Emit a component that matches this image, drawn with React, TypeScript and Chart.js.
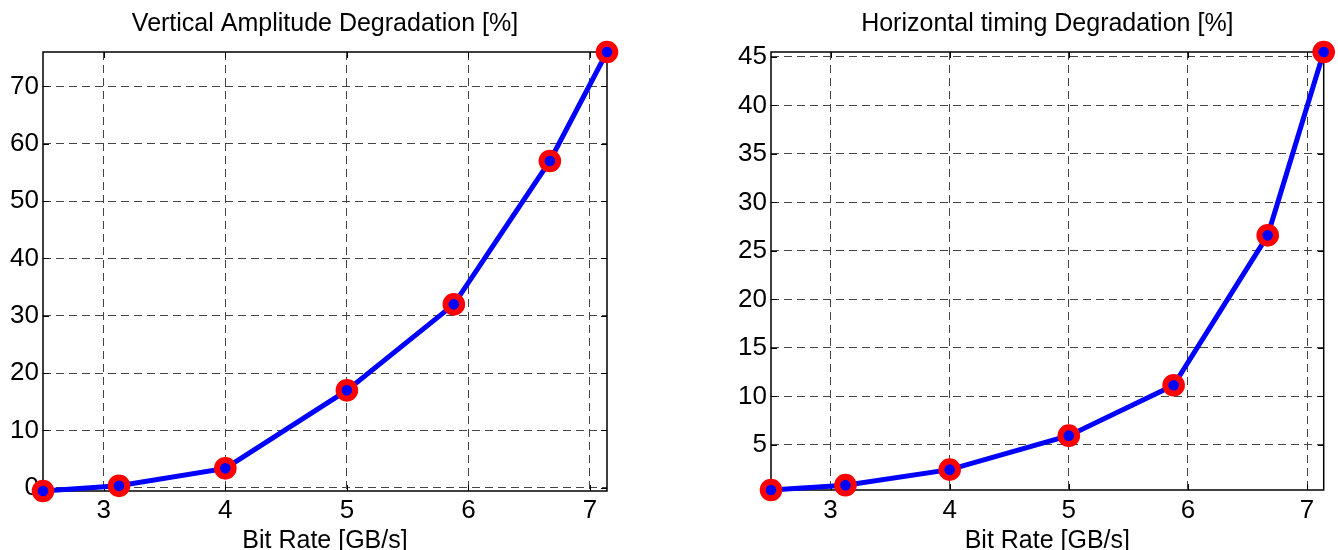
import React, { useEffect, useRef } from "react";
import { Chart, registerables } from "chart.js";

Chart.register(...registerables);

const bitRates = [2.5, 3.125, 4, 5, 5.88, 6.67, 7.14];
const verticalAmplitude = [-0.55, 0.35, 3.4, 17, 32, 57, 76];
const horizontalTiming = [0.35, 0.85, 2.45, 5.95, 11.15, 26.6, 45.5];
const xTicks = [3, 4, 5, 6, 7];
const verticalTicks = [0, 10, 20, 30, 40, 50, 60, 70];
const horizontalTicks = [5, 10, 15, 20, 25, 30, 35, 40, 45];
const leftTitle = "Vertical Amplitude Degradation [%]";
const rightTitle = "Horizontal timing Degradation [%]";
const xTitle = "Bit Rate [GB/s]";

const FONT = "'Liberation Sans', Arial, Helvetica, sans-serif";

const boxPlugin = {
  id: "matlabBox",
  beforeDatasetsDraw(chart: any) {
    const { ctx, chartArea: a, scales } = chart;
    ctx.save();
    ctx.strokeStyle = "#000";
    ctx.lineWidth = 1.5;
    ctx.strokeRect(a.left, a.top, a.right - a.left, a.bottom - a.top);
    ctx.lineWidth = 1;
    ctx.beginPath();
    const tl = 6;
    scales.x.ticks.forEach((t: any) => {
      const px = Math.round(scales.x.getPixelForValue(t.value)) + 0.5;
      ctx.moveTo(px, a.bottom);
      ctx.lineTo(px, a.bottom - tl);
      ctx.moveTo(px, a.top);
      ctx.lineTo(px, a.top + tl);
    });
    scales.y.ticks.forEach((t: any) => {
      const py = Math.round(scales.y.getPixelForValue(t.value)) + 0.5;
      ctx.moveTo(a.left, py);
      ctx.lineTo(a.left + tl, py);
      ctx.moveTo(a.right, py);
      ctx.lineTo(a.right - tl, py);
    });
    ctx.stroke();
    ctx.restore();
  },
};

function makeConfig(opts: {
  values: number[];
  yTicks: number[];
  yMin: number;
  yMax: number;
  title: string;
  yWidth: number;
  xHeight: number;
  rightPad: number;
  yTickPad: number;
  xTickPad: number;
}): any {
  return {
    type: "line",
    data: {
      datasets: [
        {
          data: bitRates.map((x, i) => ({ x, y: opts.values[i] })),
          borderColor: "#0000ff",
          borderWidth: 5,
          pointRadius: 8.3,
          pointHoverRadius: 8.3,
          pointBorderWidth: 6,
          pointHoverBorderWidth: 6,
          pointBorderColor: "#ff0000",
          pointBackgroundColor: "#0000ff",
          tension: 0,
          clip: false,
        },
      ],
    },
    options: {
      responsive: false,
      animation: false,
      events: [],
      layout: { padding: { left: 0, right: opts.rightPad, top: 0, bottom: 0 } },
      plugins: {
        legend: { display: false },
        tooltip: { enabled: false },
        title: {
          display: true,
          text: opts.title,
          fullSize: false,
          color: "#000",
          font: { family: FONT, size: 25, weight: "normal", lineHeight: 1.2 },
          padding: { top: 9.6, bottom: 12.4 },
        },
      },
      scales: {
        x: {
          type: "linear",
          min: 2.5,
          max: 7.14,
          afterBuildTicks: (s: any) => {
            s.ticks = xTicks.map((v) => ({ value: v }));
          },
          afterFit: (s: any) => {
            s.height = opts.xHeight;
          },
          grid: { color: "#444", lineWidth: 1, drawTicks: false },
          border: { display: false, dash: [8, 5] },
          ticks: {
            color: "#000",
            font: { family: FONT, size: 26 },
            padding: opts.xTickPad,
            maxRotation: 0,
            autoSkip: false,
          },
          title: {
            display: true,
            text: xTitle,
            color: "#000",
            font: { family: FONT, size: 25, lineHeight: 0.72 },
            padding: 0,
          },
        },
        y: {
          type: "linear",
          min: opts.yMin,
          max: opts.yMax,
          afterBuildTicks: (s: any) => {
            s.ticks = opts.yTicks.map((v) => ({ value: v }));
          },
          afterFit: (s: any) => {
            s.width = opts.yWidth;
          },
          grid: { color: "#444", lineWidth: 1, drawTicks: false },
          border: { display: false, dash: [8, 5] },
          ticks: {
            color: "#000",
            font: { family: FONT, size: 26 },
            padding: opts.yTickPad,
            autoSkip: false,
          },
        },
      },
    },
    plugins: [boxPlugin],
  };
}

function ChartCanvas(props: { config: any; left: number; width: number }) {
  const ref = useRef<HTMLCanvasElement | null>(null);
  useEffect(() => {
    if (!ref.current) return;
    const chart = new Chart(ref.current, props.config);
    return () => chart.destroy();
  }, []);
  return (
    <canvas
      ref={ref}
      width={props.width}
      height={550}
      style={{ position: "absolute", left: props.left, top: 0, width: props.width, height: 550 }}
    />
  );
}

export default function App() {
  const leftConfig = makeConfig({
    values: verticalAmplitude,
    yTicks: verticalTicks,
    yMin: -0.55,
    yMax: 76,
    title: leftTitle,
    yWidth: 43,
    xHeight: 59,
    rightPad: 62,
    yTickPad: 4,
    xTickPad: 4,
  });
  const rightConfig = makeConfig({
    values: horizontalTiming,
    yTicks: horizontalTicks,
    yMin: 0.35,
    yMax: 45.5,
    title: rightTitle,
    yWidth: 102,
    xHeight: 60,
    rightPad: 3,
    yTickPad: 4,
    xTickPad: 5,
  });
  return (
    <div style={{ position: "fixed", left: 0, top: 0, width: 1338, height: 550, background: "#fff", overflow: "hidden" }}>
      <ChartCanvas config={leftConfig} left={0} width={669} />
      <ChartCanvas config={rightConfig} left={669} width={669} />
    </div>
  );
}
